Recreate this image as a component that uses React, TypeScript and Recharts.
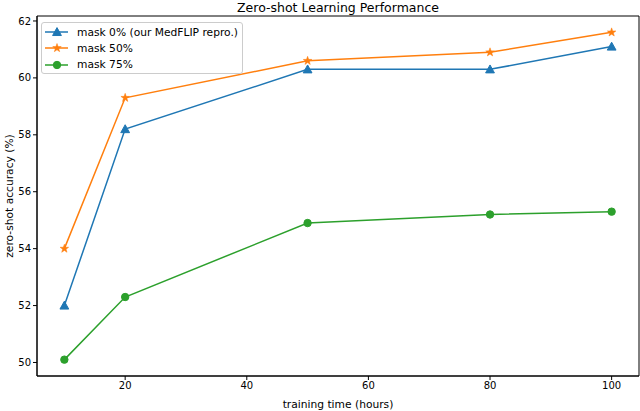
import React from 'react';
import { LineChart, Line, XAxis, YAxis, ReferenceArea } from 'recharts';

// training hours
const hours = [10, 20, 50, 80, 100];

// zero-shot accuracy (%) per masking ratio
const mask0 = [52.0, 58.2, 60.3, 60.3, 61.1];
const mask50 = [54.0, 59.3, 60.6, 60.9, 61.6];
const mask75 = [50.1, 52.3, 54.9, 55.2, 55.3];

const xTicks = [20, 40, 60, 80, 100];
const yTicks = [50, 52, 54, 56, 58, 60, 62];

const seriesNames = ['mask 0% (our MedFLIP repro.)', 'mask 50%', 'mask 75%'];

const colors = {
  blue: '#1f77b4',
  orange: '#ff7f0e',
  green: '#2ca02c',
};

const xDomain = [5.5, 104.5];
const yDomain = [49.525, 62.175];

const data = hours.map((h, i) => ({
  hours: h,
  m0: mask0[i],
  m50: mask50[i],
  m75: mask75[i],
}));

const font = '"DejaVu Sans", sans-serif';
const labelSize = 10.7;

const starPath = (cx: number, cy: number, r: number) => {
  const pts: string[] = [];
  for (let i = 0; i < 10; i++) {
    const rr = i % 2 === 0 ? r : r * 0.4;
    const a = -Math.PI / 2 + (i * Math.PI) / 5;
    pts.push(`${cx + rr * Math.cos(a)},${cy + rr * Math.sin(a)}`);
  }
  return `M${pts.join('L')}Z`;
};

const Marker = ({ kind, cx, cy, color }: { kind: string; cx: number; cy: number; color: string }) => {
  if (kind === 'triangle') {
    const r = 4.4;
    return (
      <path
        d={`M${cx},${cy - r}L${cx + r},${cy + r * 0.8}L${cx - r},${cy + r * 0.8}Z`}
        fill={color}
        stroke={color}
      />
    );
  }
  if (kind === 'star') {
    return <path d={starPath(cx, cy, 4.5)} fill={color} stroke={color} strokeWidth={0.5} />;
  }
  return <circle cx={cx} cy={cy} r={3.7} fill={color} stroke={color} />;
};

const makeDot = (kind: string, color: string) => (props: any) => {
  const { cx, cy, index } = props;
  if (cx == null || cy == null) return <g key={index} />;
  return <Marker key={index} kind={kind} cx={cx} cy={cy} color={color} />;
};

const legendItems = [
  { name: seriesNames[0], kind: 'triangle', color: colors.blue },
  { name: seriesNames[1], kind: 'star', color: colors.orange },
  { name: seriesNames[2], kind: 'circle', color: colors.green },
];

const LegendBox = () => (
  <div
    style={{
      position: 'absolute',
      left: 41,
      top: 22,
      boxSizing: 'border-box',
      width: 202,
      height: 52,
      border: '1px solid #cccccc',
      borderRadius: 3,
      background: 'rgba(255,255,255,0.8)',
      padding: '1px 0 0 3px',
      fontFamily: font,
      fontSize: labelSize,
      color: '#000',
    }}
  >
    {legendItems.map((it) => (
      <div key={it.name} style={{ display: 'flex', alignItems: 'center', height: 16.3 }}>
        <svg width={24} height={12} style={{ marginRight: 8 }}>
          <line x1={0} y1={6} x2={23} y2={6} stroke={it.color} strokeWidth={1.5} />
          <Marker kind={it.kind} cx={12} cy={6} color={it.color} />
        </svg>
        <span style={{ whiteSpace: 'nowrap' }}>{it.name}</span>
      </div>
    ))}
  </div>
);

const YLabel = (props: any) => {
  const { viewBox } = props;
  const cx = 9;
  const cy = viewBox.y + viewBox.height / 2;
  return (
    <text
      x={cx}
      y={cy}
      transform={`rotate(-90 ${cx} ${cy})`}
      textAnchor="middle"
      dominantBaseline="central"
      fontFamily={font}
      fontSize={labelSize}
      fill="#000"
    >
      zero-shot accuracy (%)
    </text>
  );
};

const tickStyle = { fontFamily: font, fontSize: 10, fill: '#000' };

export default function App() {
  return (
    <div style={{ position: 'absolute', left: 0, top: 0, width: 640, height: 411, background: '#fff' }}>
      <LineChart width={640} height={411} data={data} margin={{ top: 16, right: 1, bottom: 0, left: 0 }}>
        <XAxis
          dataKey="hours"
          type="number"
          domain={xDomain}
          ticks={xTicks}
          allowDataOverflow
          height={35}
          tickSize={4}
          tickMargin={2}
          stroke="#000"
          tick={tickStyle}
          label={{
            value: 'training time (hours)',
            position: 'insideBottom',
            offset: 3,
            style: { fontFamily: font, fontSize: labelSize, fill: '#000' },
          }}
        />
        <YAxis
          type="number"
          domain={yDomain}
          ticks={yTicks}
          allowDataOverflow
          width={37}
          tickSize={4}
          tickMargin={2}
          stroke="#000"
          tick={tickStyle}
          label={<YLabel />}
        />
        <ReferenceArea
          x1={xDomain[0]}
          x2={xDomain[1]}
          y1={yDomain[0]}
          y2={yDomain[1]}
          fill="none"
          stroke="#000"
          strokeWidth={1}
          ifOverflow="visible"
        />
        <Line
          dataKey="m0"
          name={seriesNames[0]}
          stroke={colors.blue}
          strokeWidth={1.5}
          dot={makeDot('triangle', colors.blue)}
          activeDot={false}
          isAnimationActive={false}
        />
        <Line
          dataKey="m50"
          name={seriesNames[1]}
          stroke={colors.orange}
          strokeWidth={1.5}
          dot={makeDot('star', colors.orange)}
          activeDot={false}
          isAnimationActive={false}
        />
        <Line
          dataKey="m75"
          name={seriesNames[2]}
          stroke={colors.green}
          strokeWidth={1.5}
          dot={makeDot('circle', colors.green)}
          activeDot={false}
          isAnimationActive={false}
        />
      </LineChart>
      <LegendBox />
      <div
        style={{
          position: 'absolute',
          left: 37,
          width: 602,
          top: 0,
          textAlign: 'center',
          fontFamily: font,
          fontSize: 12.5,
          color: '#000',
        }}
      >
        Zero-shot Learning Performance
      </div>
    </div>
  );
}
